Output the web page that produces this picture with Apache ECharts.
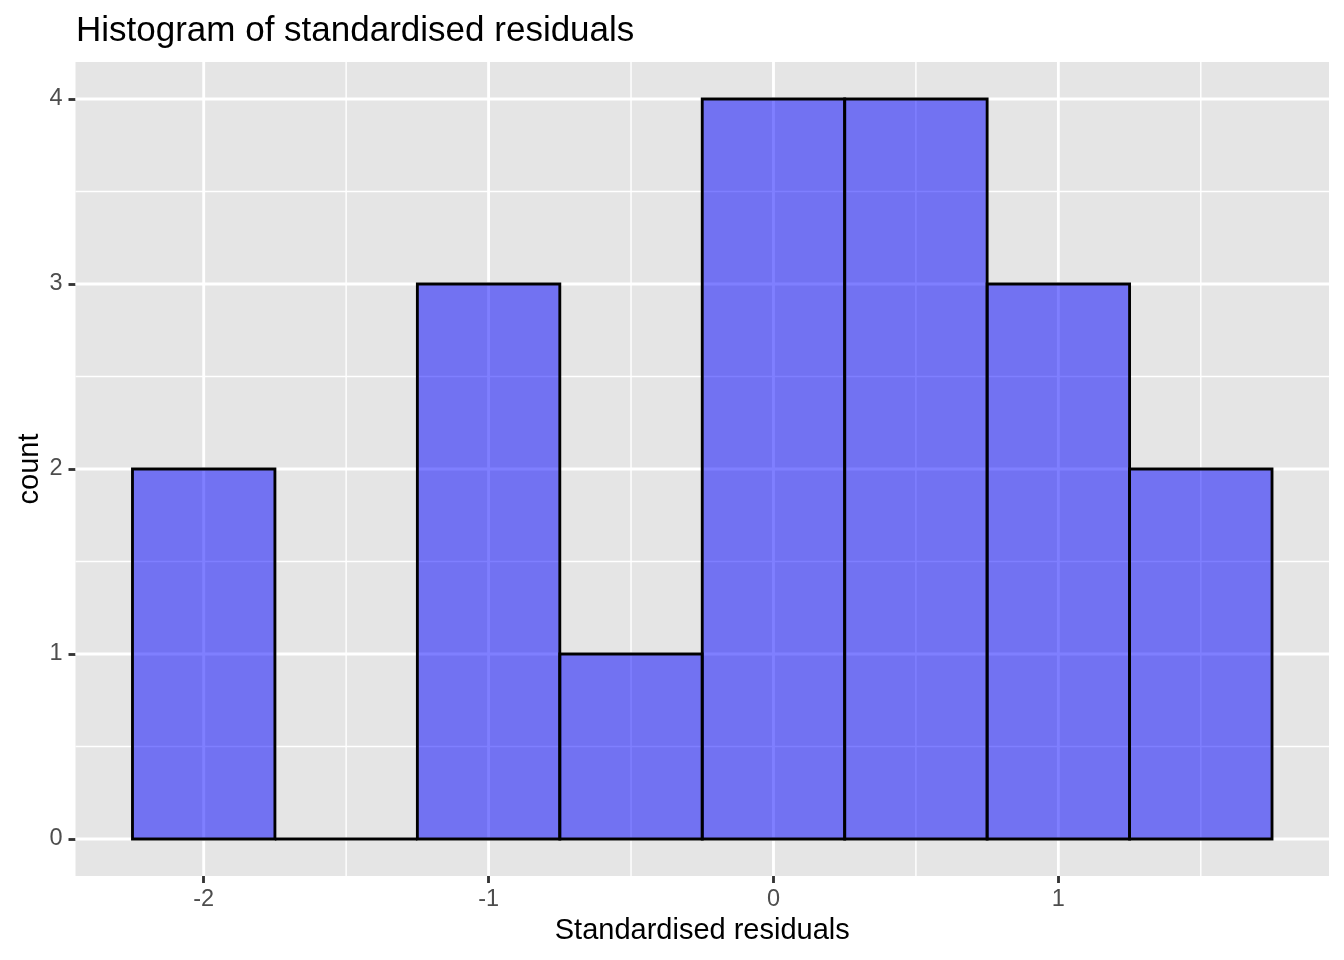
<!DOCTYPE html>
<html>
<head>
<meta charset="utf-8">
<script src="https://cdn.jsdelivr.net/npm/echarts@6/dist/echarts.min.js"></script>
<style>
html,body{margin:0;padding:0;background:#fff;}
#chart{width:1344px;height:960px;}
</style>
</head>
<body>
<div id="chart"></div>
<script>
// ---- data ----
const binCenters = [-2, -1.5, -1, -0.5, 0, 0.5, 1, 1.5];
const binWidth = 0.5;
const counts = [2, 0, 3, 1, 4, 4, 3, 2];
const xMajorTicks = [-2, -1, 0, 1];
const xMinorTicks = [-1.5, -0.5, 0.5, 1.5];
const yMajorTicks = [0, 1, 2, 3, 4];
const yMinorTicks = [0.5, 1.5, 2.5, 3.5];
const xRange = [-2.45, 1.95];
const yRange = [-0.2, 4.2];

const FONT = '"Liberation Sans", Arial, Helvetica, sans-serif';
const chart = echarts.init(document.getElementById('chart'), null, {renderer: 'canvas'});

const barData = binCenters.map((c, i) => [c - binWidth / 2, c + binWidth / 2, counts[i]]);
const vGrid = xMajorTicks.map(v => [v, 1]).concat(xMinorTicks.map(v => [v, 0]));
const hGrid = yMajorTicks.map(v => [v, 1]).concat(yMinorTicks.map(v => [v, 0]));

function gridLine(vertical) {
  return function (params, api) {
    const cs = params.coordSys;
    const v = api.value(0);
    const major = api.value(1) === 1;
    let shape;
    if (vertical) {
      const x = api.coord([v, 0])[0];
      shape = {x1: x, y1: cs.y, x2: x, y2: cs.y + cs.height};
    } else {
      const y = api.coord([0, v])[1];
      shape = {x1: cs.x, y1: y, x2: cs.x + cs.width, y2: y};
    }
    return {
      type: 'line',
      shape: shape,
      style: {stroke: '#ffffff', lineWidth: major ? 2.85 : 1.42}
    };
  };
}

const option = {
  animation: false,
  title: {
    text: 'Histogram of standardised residuals',
    left: 76,
    top: 14,
    padding: 0,
    textStyle: {fontFamily: FONT, fontSize: 35, fontWeight: 'normal', color: '#000'}
  },
  grid: {
    left: 75.5, right: 15, top: 62, bottom: 84,
    show: true, backgroundColor: '#E5E5E5', borderWidth: 0
  },
  xAxis: {
    type: 'value', min: xRange[0], max: xRange[1],
    name: 'Standardised residuals', nameLocation: 'middle', nameGap: 40, nameMoveOverlap: false,
    nameTextStyle: {fontFamily: FONT, fontSize: 29, color: '#000'},
    axisLine: {show: false, onZero: false},
    splitLine: {show: false},
    axisTick: {show: true, customValues: xMajorTicks, length: 7, lineStyle: {color: '#333333', width: 2.85}},
    axisLabel: {customValues: xMajorTicks, margin: 12, fontFamily: FONT, fontSize: 23.5, color: '#4D4D4D',
      formatter: v => String(v)}
  },
  yAxis: {
    type: 'value', min: yRange[0], max: yRange[1],
    name: 'count', nameLocation: 'middle', nameGap: 31, nameRotate: 90, nameMoveOverlap: false,
    nameTextStyle: {fontFamily: FONT, fontSize: 29, color: '#000'},
    axisLine: {show: false, onZero: false},
    splitLine: {show: false},
    axisTick: {show: true, customValues: yMajorTicks, length: 7, lineStyle: {color: '#333333', width: 2.85}},
    axisLabel: {customValues: yMajorTicks, margin: 13, fontFamily: FONT, fontSize: 23.5, color: '#4D4D4D',
      formatter: v => String(v)}
  },
  series: [
    {type: 'custom', z: 1, silent: true, renderItem: gridLine(true), data: vGrid, clip: true},
    {type: 'custom', z: 1, silent: true, renderItem: gridLine(false), data: hGrid, clip: true},
    {
      type: 'custom', z: 5,
      renderItem: function (params, api) {
        const p0 = api.coord([api.value(0), 0]);
        const p1 = api.coord([api.value(1), api.value(2)]);
        return {
          type: 'rect',
          shape: {x: p0[0], y: p1[1], width: p1[0] - p0[0], height: p0[1] - p1[1]},
          style: {fill: 'rgba(0,0,255,0.5)', stroke: '#000000', lineWidth: 2.85}
        };
      },
      data: barData
    }
  ]
};
chart.setOption(option);
</script>
</body>
</html>
